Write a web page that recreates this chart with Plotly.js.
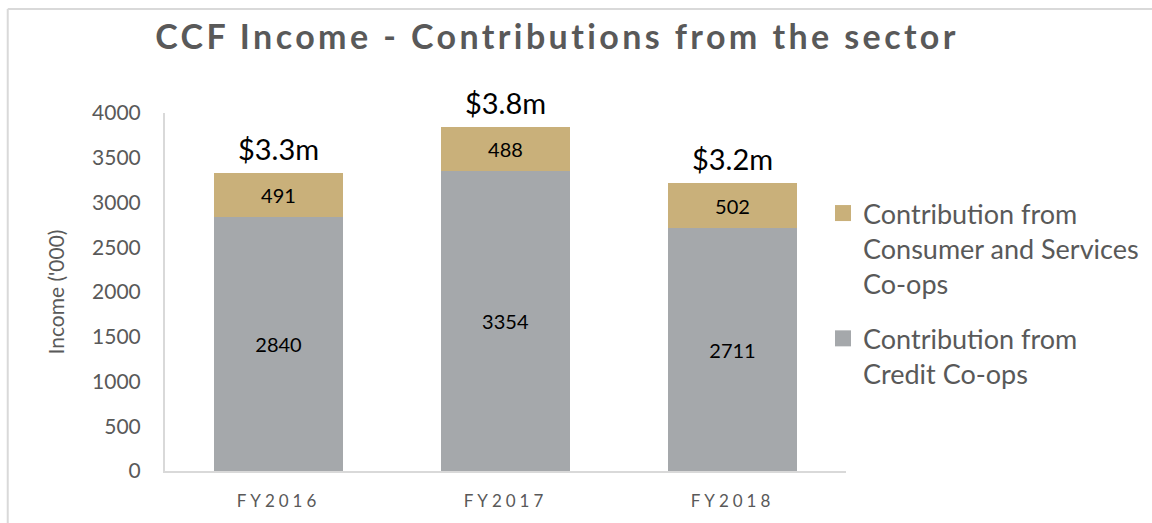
<!DOCTYPE html>
<html>
<head>
<meta charset="utf-8">
<script src="https://cdn.plot.ly/plotly-3.0.1.min.js"></script>
<style>
html,body{margin:0;padding:0;background:#fff;}
#chart{width:1152px;height:523px;}
.gtitle{letter-spacing:3.4px;}
.xtick text{letter-spacing:4px;}
</style>
</head>
<body>
<div id="chart"></div>
<script>
const categories = ['FY2016', 'FY2017', 'FY2018'];
const creditCoops = [2840, 3354, 2711];
const consumerCoops = [491, 488, 502];
const totalLabels = ['$3.3m', '$3.8m', '$3.2m'];
const yTicks = [0, 500, 1000, 1500, 2000, 2500, 3000, 3500, 4000];
const seriesNames = ['Contribution from<br>Credit Co-ops', 'Contribution from<br>Consumer and Services<br>Co-ops'];
const seriesColors = ['#A5A8AB', '#C9B07A'];

const totals = categories.map((c, i) => creditCoops[i] + consumerCoops[i]);
const FONT = 'Lato, "Open Sans", sans-serif';
const GREY = '#595959';

function barTrace(vals, idx) {
  return {
    type: 'bar', name: seriesNames[idx], x: categories, y: vals,
    marker: {color: seriesColors[idx]},
    text: vals.map(String), textposition: 'inside', insidetextanchor: 'middle',
    textangle: 0, constraintext: 'none',
    textfont: {family: FONT, size: 20, color: '#000'},
    showlegend: false, hoverinfo: 'skip'
  };
}
function legendProxy(idx, group) {
  return {
    type: 'scatter', mode: 'markers', x: [null], y: [null], name: seriesNames[idx],
    marker: {symbol: 'square', size: 16, color: seriesColors[idx]},
    legendgroup: group, showlegend: true, hoverinfo: 'skip'
  };
}

const traces = [
  barTrace(creditCoops, 0),
  barTrace(consumerCoops, 1),
  {
    type: 'scatter', mode: 'text+markers', x: categories, y: totals,
    text: totalLabels, textposition: 'top center',
    marker: {size: 8, opacity: 0},
    textfont: {family: FONT, size: 29, color: '#000'},
    showlegend: false, hoverinfo: 'skip', cliponaxis: false
  },
  legendProxy(1, 'consumer'),
  legendProxy(0, 'credit')
];

const layout = {
  width: 1152, height: 523,
  margin: {l: 164.5, r: 305.5, t: 113, b: 52, autoexpand: false},
  paper_bgcolor: '#fff', plot_bgcolor: '#fff',
  barmode: 'stack', bargap: 0.428,
  showlegend: true,
  title: {
    text: 'CCF Income - Contributions from the sector',
    font: {family: FONT, size: 34, color: GREY, weight: 'bold'},
    x: 557 / 1152, xanchor: 'center', xref: 'container',
    y: 1 - 37 / 523, yanchor: 'middle', yref: 'container'
  },
  xaxis: {
    type: 'category', showline: true, linecolor: '#D9D9D9', linewidth: 2,
    ticks: '', tickfont: {family: FONT, size: 17, color: GREY},
    ticklabelstandoff: 14, showgrid: false, zeroline: false
  },
  yaxis: {
    range: [0, 4000], tickvals: yTicks, ticktext: yTicks.map(String),
    showline: true, linecolor: '#D9D9D9', linewidth: 2,
    ticks: '', tickfont: {family: FONT, size: 21, color: GREY},
    ticklabelstandoff: 18, showgrid: false, zeroline: false,
    title: {text: "Income ('000)", font: {family: FONT, size: 21, color: GREY}, standoff: 22}
  },
  legend: {
    x: 823 / 1152, xanchor: 'left', xref: 'container',
    y: 1 - 189 / 523, yanchor: 'top', yref: 'container',
    traceorder: 'grouped', tracegroupgap: 17, valign: 'top',
    font: {family: FONT, size: 27, color: GREY},
    itemwidth: 30, bgcolor: 'rgba(0,0,0,0)'
  },
  shapes: [
    {type: 'line', xref: 'paper', yref: 'paper', x0: (7 - 164.5) / 682, x1: (7 - 164.5) / 682, y0: -0.2, y1: (471 - 9) / 358,
     line: {color: '#D9D9D9', width: 2}},
    {type: 'line', xref: 'paper', yref: 'paper', x0: (7 - 164.5) / 682, x1: 1.5, y0: (471 - 9) / 358, y1: (471 - 9) / 358,
     line: {color: '#D9D9D9', width: 2}}
  ]
};

Plotly.newPlot('chart', traces, layout, {displayModeBar: false, staticPlot: true});
</script>
</body>
</html>
